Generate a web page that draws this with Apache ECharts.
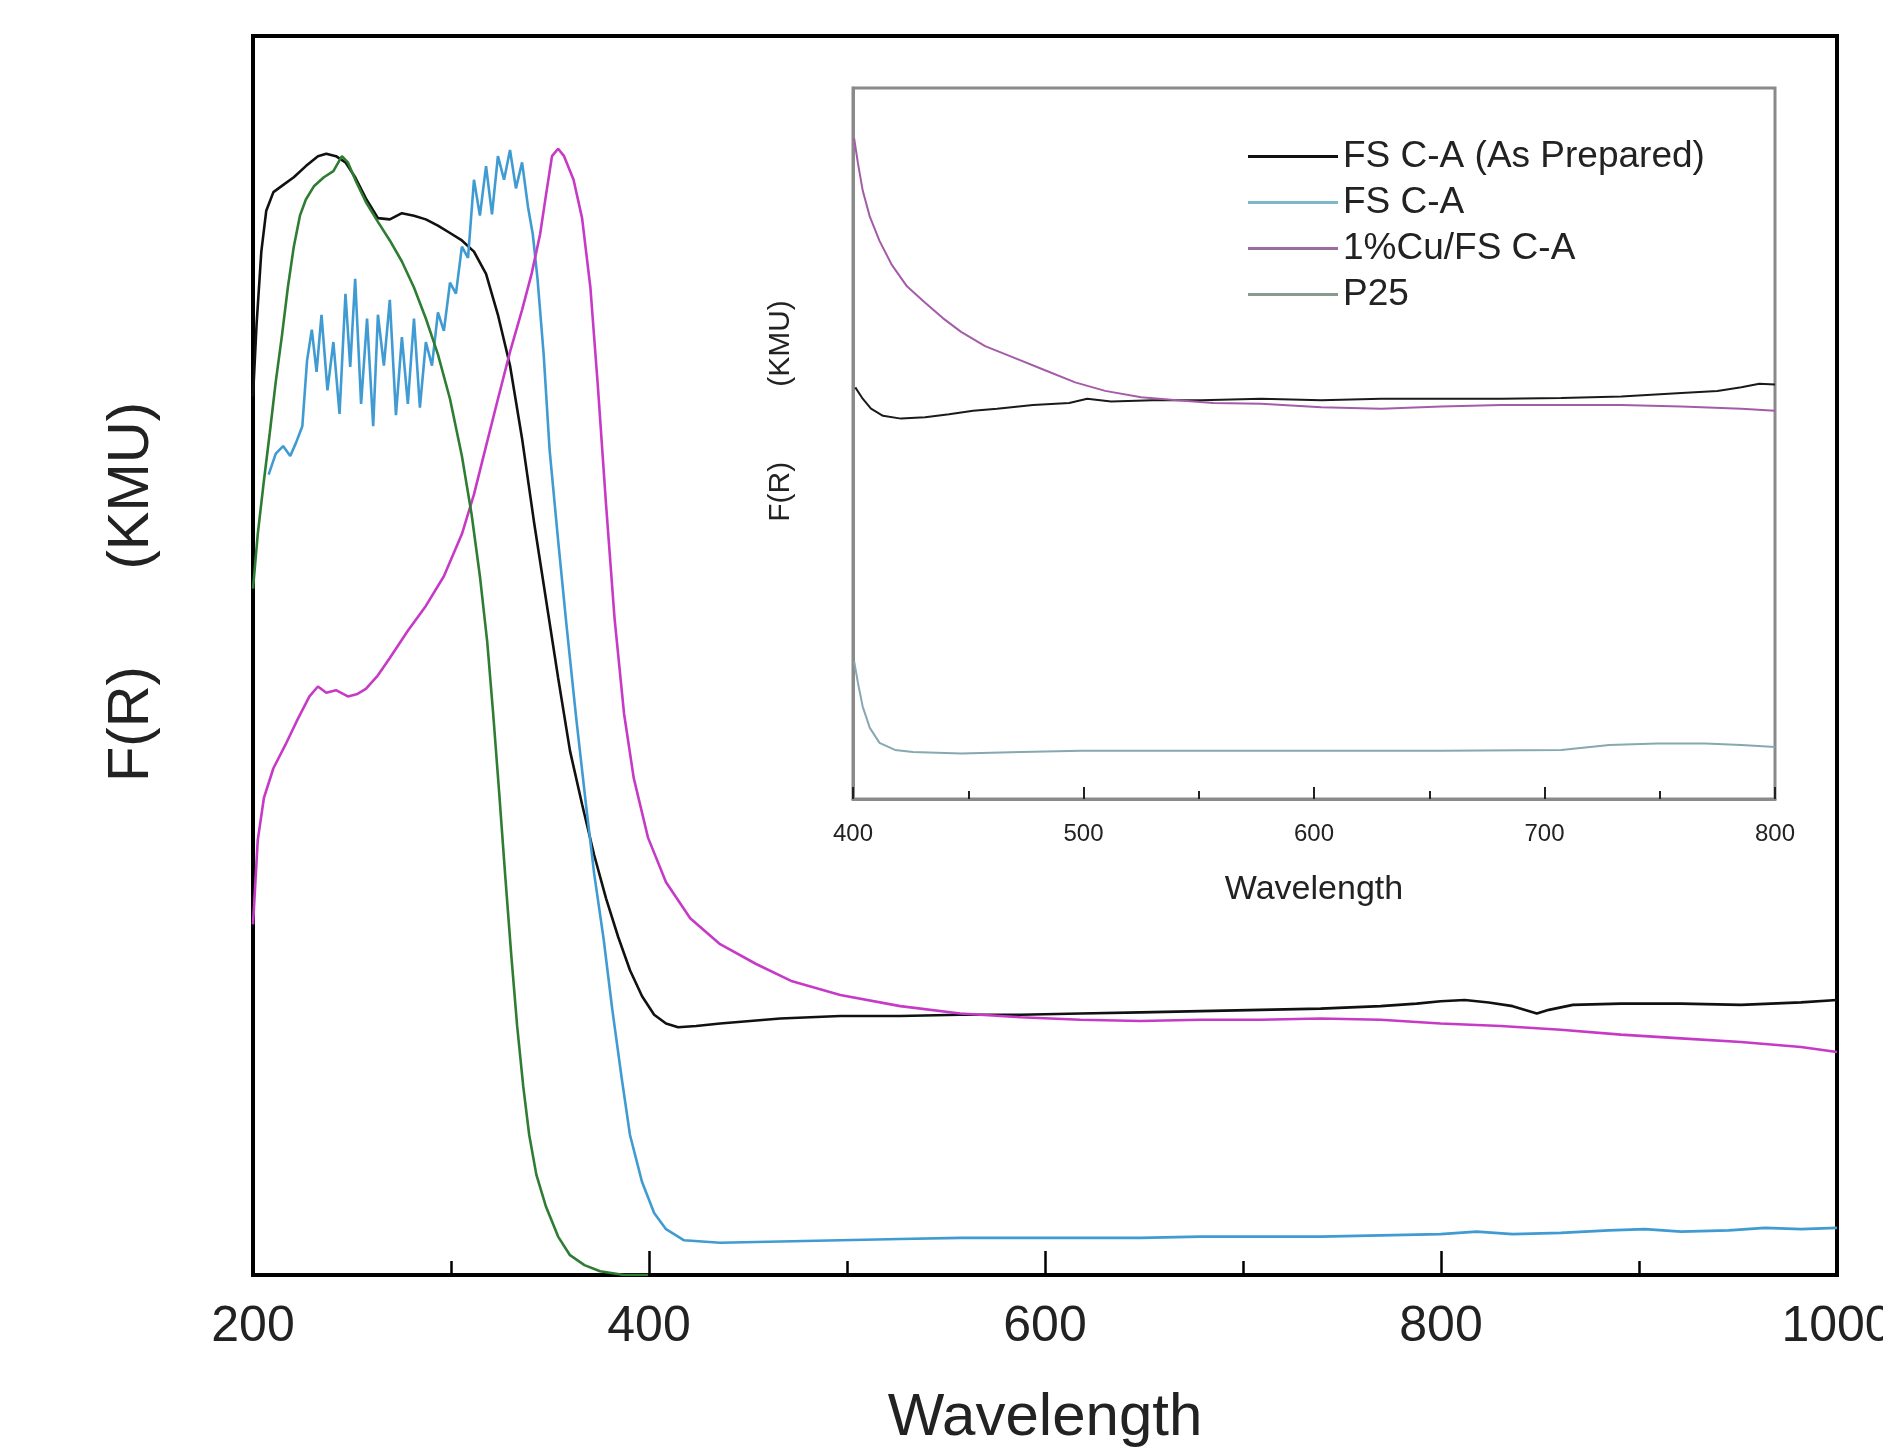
<!DOCTYPE html>
<html>
<head>
<meta charset="utf-8">
<script src="https://cdn.jsdelivr.net/npm/echarts@6/dist/echarts.min.js"></script>
<style>html,body{margin:0;padding:0;background:#fff;width:1883px;height:1447px;overflow:hidden;}#c{width:1883px;height:1447px;}</style>
</head>
<body>
<div id="c"></div>
<script>
// ---- Data (wavelength nm, relative F(R)) ----
const seriesNames = ['FS C-A (As Prepared)', 'FS C-A', '1%Cu/FS C-A', 'P25'];
const mainXTicks = [200, 400, 600, 800, 1000];
const insetXTicks = [400, 500, 600, 700, 800];

const asPrepared = [[200,70.9],[201.8,76.7],[204.2,82.6],[206.7,85.9],[210.3,87.4],[214.6,87.9],[220.6,88.6],[226.7,89.5],[232.8,90.3],[237.0,90.5],[241.9,90.3],[246.7,89.8],[251.6,88.6],[257.0,86.9],[263.1,85.3],[269.1,85.2],[275.2,85.7],[281.3,85.5],[287.3,85.2],[293.4,84.7],[299.5,84.1],[305.5,83.5],[311.6,82.6],[317.7,80.8],[323.7,77.5],[329.8,73.4],[335.9,67.5],[341.9,60.8],[348.0,54.5],[354.1,48.2],[360.1,42.3],[366.2,38.0],[372.3,33.9],[378.3,30.4],[384.4,27.3],[390.4,24.6],[396.5,22.5],[402.6,21.0],[408.6,20.3],[414.7,20.0],[423.8,20.1],[435.9,20.3],[466.3,20.7],[496.6,20.9],[526.9,20.9],[557.2,21.0],[587.6,21.0],[617.9,21.1],[648.2,21.2],[678.5,21.3],[708.9,21.4],[739.2,21.5],[769.5,21.7],[787.7,21.9],[799.8,22.1],[812.0,22.2],[824.1,22.0],[836.2,21.7],[848.4,21.1],[854.5,21.4],[866.6,21.8],[890.8,21.9],[921.2,21.9],[951.5,21.8],[981.8,22.0],[1000,22.2]];

const fsCA = [[207.9,64.6],[211.5,66.3],[215.2,66.9],[218.8,66.1],[221.8,67.2],[224.9,68.5],[227.3,73.8],[229.7,76.3],[232.1,72.9],[234.6,77.5],[237.6,71.4],[240.6,75.3],[243.7,69.5],[246.7,79.2],[249.1,73.3],[251.6,80.4],[254.6,70.3],[257.6,77.2],[260.7,68.5],[263.1,77.5],[266.1,73.4],[269.1,78.7],[272.2,69.4],[275.2,75.7],[278.2,70.3],[281.3,77.2],[284.3,70.0],[287.3,75.3],[290.4,73.4],[293.4,77.7],[296.4,76.2],[299.5,80.1],[302.5,79.2],[305.5,83.0],[308.6,82.1],[311.6,88.4],[314.6,85.5],[317.7,89.5],[320.7,85.6],[323.7,90.3],[326.8,88.4],[329.8,90.8],[332.8,87.7],[335.9,89.8],[338.9,86.2],[341.3,84.0],[343.7,80.4],[346.8,74.3],[349.8,66.6],[354.1,59.3],[358.3,52.5],[363.2,45.0],[368.0,38.2],[372.3,32.4],[377.1,27.1],[381.4,21.5],[386.2,15.9],[390.4,11.3],[396.5,7.5],[402.6,5.0],[408.6,3.7],[417.7,2.8],[435.9,2.6],[466.3,2.7],[496.6,2.8],[526.9,2.9],[557.2,3.0],[587.6,3.0],[617.9,3.0],[648.2,3.0],[678.5,3.1],[708.9,3.1],[739.2,3.1],[769.5,3.2],[799.8,3.3],[818.0,3.5],[836.2,3.3],[860.5,3.4],[884.8,3.6],[903.0,3.7],[921.2,3.5],[945.4,3.6],[963.6,3.8],[981.8,3.7],[1000,3.8]];

const cuFsCA = [[200,28.3],[202.4,35.1],[205.5,38.5],[210.3,40.9],[216.4,42.8],[222.4,44.8],[228.5,46.7],[232.8,47.5],[237.0,47.0],[241.9,47.2],[247.9,46.7],[252.8,46.9],[257.0,47.3],[263.1,48.4],[269.1,49.8],[278.2,52.0],[287.3,54.0],[296.4,56.4],[305.5,59.8],[311.6,63.0],[317.7,66.9],[323.7,70.7],[329.8,74.5],[335.9,77.9],[340.7,80.8],[345.0,84.0],[348.0,87.2],[351.0,90.3],[354.1,90.9],[357.1,90.3],[361.9,88.4],[366.2,85.3],[370.4,79.7],[374.1,71.9],[378.3,62.2],[382.6,53.0],[387.4,45.3],[392.3,40.1],[399.5,35.3],[408.6,31.7],[420.8,28.8],[435.9,26.7],[454.1,25.1],[472.3,23.7],[496.6,22.6],[526.9,21.7],[557.2,21.1],[587.6,20.8],[617.9,20.6],[648.2,20.5],[678.5,20.6],[708.9,20.6],[739.2,20.7],[769.5,20.6],[799.8,20.3],[830.2,20.1],[860.5,19.8],[890.8,19.4],[921.2,19.1],[951.5,18.8],[981.8,18.4],[1000,18.0]];

const p25 = [[200,55.4],[202.4,59.8],[205.5,64.1],[208.5,68.0],[211.5,72.1],[214.6,75.8],[217.6,79.7],[220.6,83.0],[223.7,85.5],[226.7,86.8],[230.9,87.9],[235.8,88.6],[240.6,89.1],[244.9,90.3],[247.9,89.8],[252.2,88.2],[257.0,86.6],[263.1,85.0],[269.1,83.5],[275.2,81.8],[281.3,79.7],[287.3,77.2],[293.4,74.3],[299.5,70.7],[305.5,66.1],[310.4,61.4],[314.6,56.4],[318.3,51.1],[321.3,45.3],[324.3,39.0],[327.4,32.2],[330.4,25.9],[333.4,20.1],[336.5,15.2],[339.5,11.3],[343.1,8.1],[348.0,5.5],[354.1,3.1],[360.1,1.6],[367.4,0.8],[375.3,0.3],[387.4,0.0],[399.5,0.0]];

// inset (400-800 nm)
const insetAsPrepared = [[401.0,57.9],[404.2,56.3],[407.8,54.9],[413.0,53.9],[420.8,53.5],[431.3,53.7],[441.7,54.1],[452.1,54.6],[462.5,54.9],[478.1,55.4],[493.8,55.7],[501.6,56.3],[512.0,55.9],[530.2,56.1],[551.0,56.1],[577.1,56.3],[603.1,56.1],[629.2,56.3],[655.2,56.3],[681.3,56.3],[707.3,56.4],[733.3,56.6],[759.4,57.1],[775.0,57.4],[785.4,57.9],[793.2,58.4],[800,58.3]];
const insetCuFsCA = [[400.5,92.9],[402.1,89.5],[404.2,85.6],[407.3,81.9],[411.5,78.5],[416.7,75.2],[423.4,72.1],[431.3,69.8],[439.1,67.6],[446.9,65.7],[457.3,63.7],[470.3,62.0],[483.3,60.3],[496.4,58.6],[509.4,57.4],[525.0,56.5],[540.6,56.1],[556.3,55.7],[577.1,55.6],[603.1,55.1],[629.2,54.9],[655.2,55.2],[681.3,55.4],[707.3,55.4],[733.3,55.4],[759.4,55.2],[785.4,54.9],[800,54.6]];
const insetFsCA = [[400.5,19.4],[402.1,16.4],[404.2,13.0],[407.3,10.0],[411.5,7.9],[418.2,6.9],[426.0,6.6],[446.9,6.4],[472.9,6.6],[499.0,6.8],[525.0,6.8],[551.0,6.8],[603.1,6.8],[655.2,6.8],[707.3,6.9],[728.1,7.6],[748.9,7.8],[769.8,7.8],[785.4,7.6],[800,7.3]];

// ---- Chart ----
const FONT = 'Liberation Sans, Arial, sans-serif';
const chart = echarts.init(document.getElementById('c'), null, {renderer: 'canvas', width: 1883, height: 1447});

function line(name, data, color, width, xi, yi, z) {
  return {name, type: 'line', data, xAxisIndex: xi, yAxisIndex: yi, showSymbol: false,
    symbol: 'none', lineStyle: {color, width}, itemStyle: {color}, z: z || 2, animation: false};
}

chart.setOption({
  animation: false,
  backgroundColor: '#ffffff',
  grid: [
    {left: 253, right: 46, top: 36, bottom: 172, show: true, borderColor: '#000', borderWidth: 4,
      backgroundColor: 'transparent', containLabel: false, outerBoundsMode: 'none'},
    {left: 853, right: 108, top: 88, bottom: 648, show: true, borderColor: '#8a8a8a', borderWidth: 3,
      backgroundColor: 'transparent', containLabel: false, outerBoundsMode: 'none'}
  ],
  legend: {
    orient: 'vertical', left: 1243, top: 133, itemWidth: 90, itemHeight: 3, itemGap: 9,
    icon: 'rect', selectedMode: false,
    textStyle: {fontFamily: FONT, fontSize: 37, color: '#222'},
    data: [
      {name: seriesNames[0], itemStyle: {color: '#111'}},
      {name: seriesNames[1], itemStyle: {color: '#7cb8c8'}},
      {name: seriesNames[2], itemStyle: {color: '#9a6aa0'}},
      {name: seriesNames[3], itemStyle: {color: '#8a9a8c'}}
    ]
  },
  xAxis: [
    {type: 'value', gridIndex: 0, min: mainXTicks[0], max: mainXTicks[mainXTicks.length - 1], interval: 200,
      axisLine: {show: true, lineStyle: {color: '#000', width: 4}},
      axisTick: {show: true, inside: true, length: 24, lineStyle: {color: '#000', width: 2.5}},
      minorTick: {show: true, splitNumber: 2, length: 14, lineStyle: {color: '#000', width: 2.5}},
      splitLine: {show: false}, minorSplitLine: {show: false},
      axisLabel: {fontFamily: FONT, fontSize: 50, color: '#222', margin: 27, showMaxLabel: true,
        formatter: function (v) { return String(v); }},
      name: 'Wavelength', nameLocation: 'middle', nameGap: 113,
      nameTextStyle: {fontFamily: FONT, fontSize: 60, color: '#222'}},
    {type: 'value', gridIndex: 1, min: insetXTicks[0], max: insetXTicks[insetXTicks.length - 1], interval: 100,
      axisLine: {show: true, lineStyle: {color: '#8a8a8a', width: 3}},
      axisTick: {show: true, inside: true, length: 12, lineStyle: {color: '#222', width: 2}},
      minorTick: {show: true, splitNumber: 2, length: 8, lineStyle: {color: '#222', width: 2}},
      splitLine: {show: false}, minorSplitLine: {show: false},
      axisLabel: {fontFamily: FONT, fontSize: 24, color: '#222', margin: 23,
        formatter: function (v) { return String(v); }},
      name: 'Wavelength', nameLocation: 'middle', nameGap: 74,
      nameTextStyle: {fontFamily: FONT, fontSize: 34, color: '#222'}}
  ],
  yAxis: [
    {type: 'value', gridIndex: 0, min: 0, max: 100,
      axisLine: {show: true, lineStyle: {color: '#000', width: 4}},
      axisTick: {show: false}, axisLabel: {show: false}, splitLine: {show: false}},
    {type: 'value', gridIndex: 1, min: 0, max: 100,
      axisLine: {show: true, lineStyle: {color: '#8a8a8a', width: 3}},
      axisTick: {show: false}, axisLabel: {show: false}, splitLine: {show: false}}
  ],
  graphic: [
    {type: 'text', x: 132, y: 592, rotation: Math.PI / 2,
      style: {text: 'F(R)      (KMU)', font: '58px Liberation Sans', fill: '#222', align: 'center', verticalAlign: 'middle'}},
    {type: 'text', x: 781, y: 411, rotation: Math.PI / 2,
      style: {text: 'F(R)         (KMU)', font: '30px Liberation Sans', fill: '#222', align: 'center', verticalAlign: 'middle'}}
  ],
  series: [
    line(seriesNames[0], asPrepared, '#111111', 2.6, 0, 0, 3),
    line(seriesNames[1], fsCA, '#3f9bd2', 2.6, 0, 0, 3),
    line(seriesNames[2], cuFsCA, '#c63ac6', 2.6, 0, 0, 3),
    line(seriesNames[3], p25, '#2f7d32', 2.6, 0, 0, 4),
    line(seriesNames[0], insetAsPrepared, '#1a1a1a', 2, 1, 1, 3),
    line(seriesNames[2], insetCuFsCA, '#a45ca8', 2, 1, 1, 3),
    line(seriesNames[1], insetFsCA, '#86a8b0', 2, 1, 1, 3)
  ]
});
</script>
</body>
</html>
